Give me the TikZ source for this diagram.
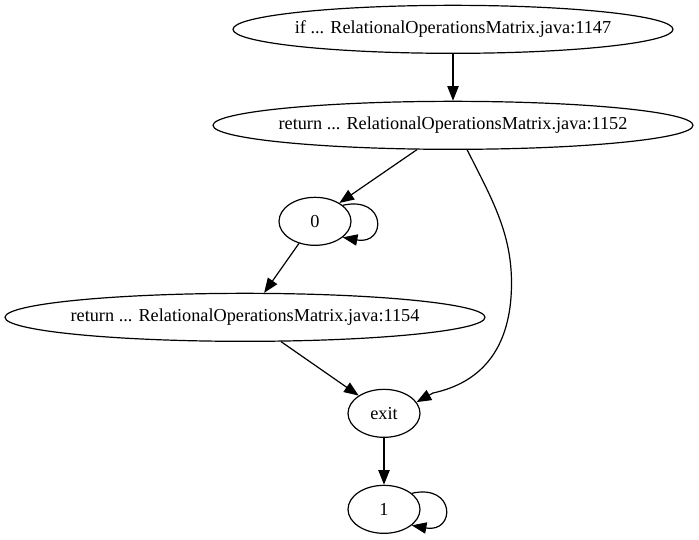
\documentclass[tikz,border=0pt]{standalone}
\usepackage{fontspec}
\setmainfont{Liberation Serif}
\usetikzlibrary{shapes.geometric,arrows.meta}
\begin{document}
\begin{tikzpicture}[x=0.75pt,y=-0.75pt,
  every node/.style={font=\fontsize{13.7pt}{16pt}\selectfont},
  wide/.style={draw,ellipse,line width=0.9pt,inner xsep=-60pt,inner ysep=0pt,minimum height=36pt},
  small/.style={draw,ellipse,line width=0.9pt,inner sep=0pt,minimum width=54pt,minimum height=36pt},
  edge/.style={line width=0.9pt,-{Triangle[length=11pt,width=8.5pt]}}]
\useasboundingbox (0,0) rectangle (699,539);
\node[wide,minimum width=330pt] (A) at (453,29.33) {if ... RelationalOperationsMatrix.java:1147};
\node[wide,minimum width=360pt] (B) at (453,125.33) {return ... RelationalOperationsMatrix.java:1152};
\node[small] (C) at (315,221.33) {0};
\node[wide,minimum width=360pt] (D) at (245,317.33) {return ... RelationalOperationsMatrix.java:1154};
\node[small] (E) at (384,413.33) {exit};
\node[small] (F) at (384,509.33) {1};
\draw[edge] (A) -- (B);
\draw[edge] (B.214) -- (C.37);
\draw[edge] (C.30) .. controls +(44,-10) and +(44,8) .. (C.-30);
\draw[edge] (C.-126) -- (D.52);
\draw[edge] (B.-60) .. controls (492,199) and (511.5,233) .. (511.5,283)
  .. controls (511.5,360) and (470,385) .. (433,393) -- (E.19);
\draw[edge] (D.-34) -- (E.145);
\draw[edge] (E) -- (F);
\draw[edge] (F.30) .. controls +(44,-10) and +(44,8) .. (F.-30);
\end{tikzpicture}
\end{document}
